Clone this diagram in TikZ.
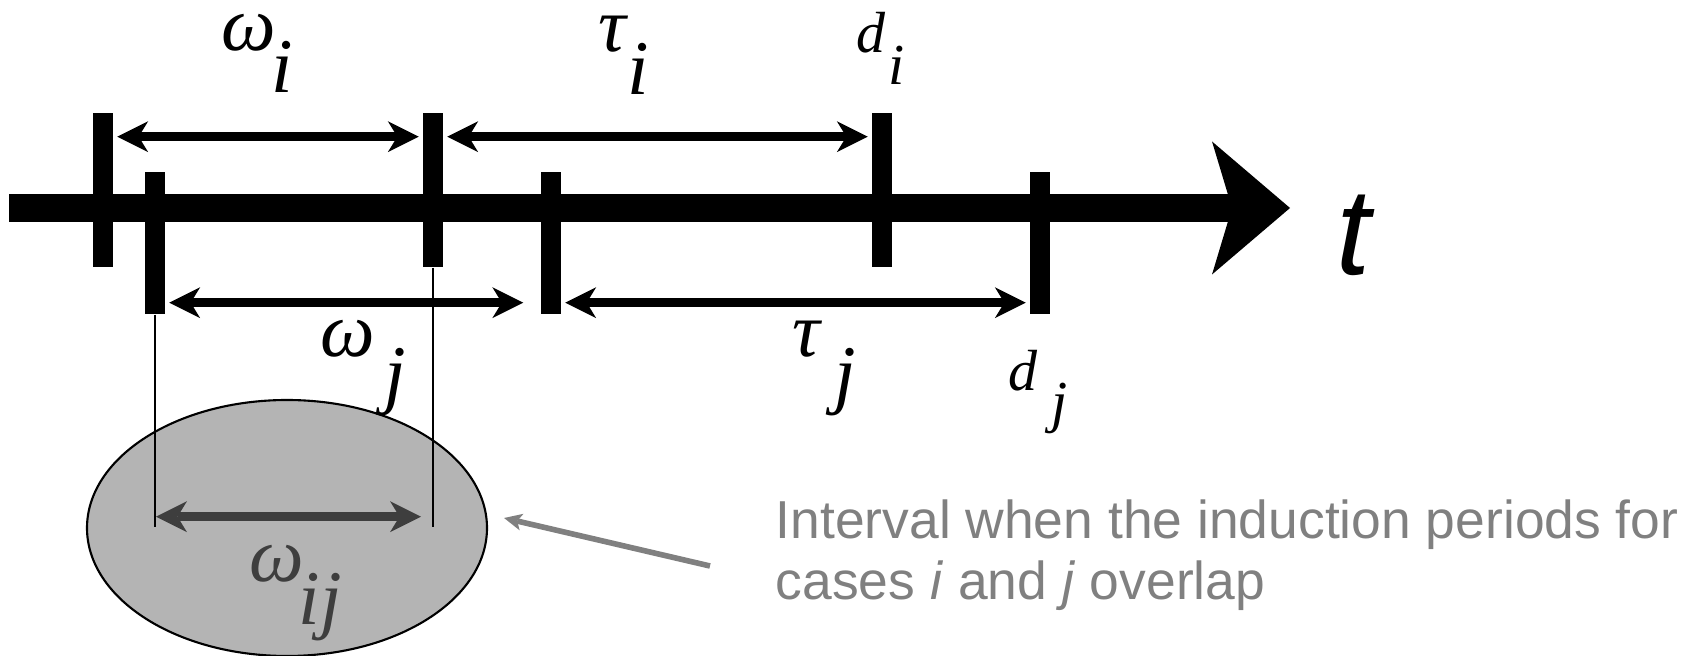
\documentclass[tikz,border=0pt]{standalone}
\usepackage{fontspec}
\setmainfont{Liberation Sans}
\newfontfamily\lblfont{Liberation Serif}
\usetikzlibrary{arrows.meta,shapes.geometric}
\definecolor{ovlgray}{RGB}{180,180,180}
\definecolor{ovldark}{RGB}{62,62,62}
\definecolor{notegray}{RGB}{128,128,128}
\tikzset{
  tickI/.style={fill=black, inner sep=0pt, minimum width=2mm, minimum height=15.4mm},
  tickJ/.style={fill=black, inner sep=0pt, minimum width=2mm, minimum height=14.2mm},
  interval/.style={<->, line width=2.5pt, shorten <=0.35mm, shorten >=0.35mm},
  sym/.style={inner sep=0pt, anchor=base, font=\lblfont\itshape\fontsize{22}{26}\selectfont},
  dsym/.style={inner sep=0pt, anchor=base, font=\lblfont\itshape\fontsize{16.5}{20}\selectfont},
  note/.style={inner sep=0pt, anchor=base west, text=notegray, font=\fontsize{15.2}{18}\selectfont},
}
\begin{document}
\begin{tikzpicture}[x=0.1mm, y=-0.1mm, >={Stealth[length=3.1mm, width=3.1mm, inset=0.95mm, line width=0pt]}]
    \useasboundingbox (0,0) rectangle (1697,656);

    % 1. Vùng giao nhau
    \node[ellipse, draw, line width=0.6pt, fill=ovlgray, minimum width=40mm, minimum height=25.6mm, inner sep=0pt] (ovlp) at (287,528) {};

    % 2. Trục thời gian
    \coordinate (axL) at (9,208);
    \coordinate (axR) at (1290,208);
    \draw[line width=7.9pt, -{Stealth[length=7.8mm, width=13.3mm, inset=2mm, line width=0pt]}] (axL) -- (axR);
    \node[inner sep=0pt, anchor=base, font=\itshape\fontsize{35}{40}\selectfont] (tlab) at (1354,275) {t};

    % 3. Các mốc
    \node[tickI] (expI) at (103,190) {};
    \node[tickJ] (expJ) at (155,243) {};
    \node[tickI] (onsI) at (433,190) {};
    \node[tickJ] (onsJ) at (551,243) {};
    \node[tickI] (dgI) at (882,190) {};
    \node[tickJ] (dgJ) at (1040,243) {};

    % 4. Các khoảng
    \coordinate (up) at (0,136.7);
    \coordinate (lo) at (0,302.7);
    \draw[interval] (expI.east |- up) -- (onsI.west |- up);
    \draw[interval] (onsI.east |- up) -- (dgI.west |- up);
    \draw[interval, shorten >=1.7mm] (expJ.east |- lo) -- (onsJ.west |- lo);
    \draw[interval] (onsJ.east |- lo) -- (dgJ.west |- lo);

    % 5. Phần chồng lấp
    \coordinate (ov) at (0,526.7);
    \coordinate (ovmid) at (0,516.7);
    \draw[line width=0.4pt] (expJ.south) -- (expJ.south |- ov);
    \draw[line width=0.4pt] (onsI.south) -- (onsI.south |- ov);
    \draw[interval, draw=ovldark, shorten <=0.1mm, shorten >=1.2mm] (expJ |- ovmid) -- (onsI |- ovmid);

    % 6. Nhãn
    \node[sym] (wI) at (249,51) {ω};
    \node[sym] (wIs) at (282,93) {i};
    \node[sym] (tauI) at (612,52) {τ};
    \node[sym] (tauIs) at (638,95) {i};
    \node[dsym] (dI) at (871,53) {d};
    \node[dsym] (dIs) at (897,85) {i};
    \node[sym] (wJ) at (348,357) {ω};
    \node[sym] (wJs) at (395,400) {j};
    \node[sym] (tauJ) at (806,357) {τ};
    \node[sym] (tauJs) at (845,400) {j};
    \node[dsym] (dJ) at (1023,391) {d};
    \node[dsym] (dJs) at (1060,422) {j};
    \node[sym, text=ovldark] (wIJ) at (277,582) {ω};
    \node[sym, text=ovldark] (wIJs) at (320,625) {ij};

    % 7. Chú thích
    \node[note] (note1) at (775,539) {Interval when the induction periods for};
    \node[note] (note2) at (775,600) {cases \textit{i} and \textit{j} overlap};
    \coordinate (ptr) at (710,566);
    \draw[line width=1.6pt, draw=notegray, -{Stealth[length=1.8mm, width=1.7mm, inset=0.45mm, line width=0pt]}] (ptr) -- ([xshift=1.6mm, yshift=1mm]ovlp.east);
\end{tikzpicture}
\end{document}
